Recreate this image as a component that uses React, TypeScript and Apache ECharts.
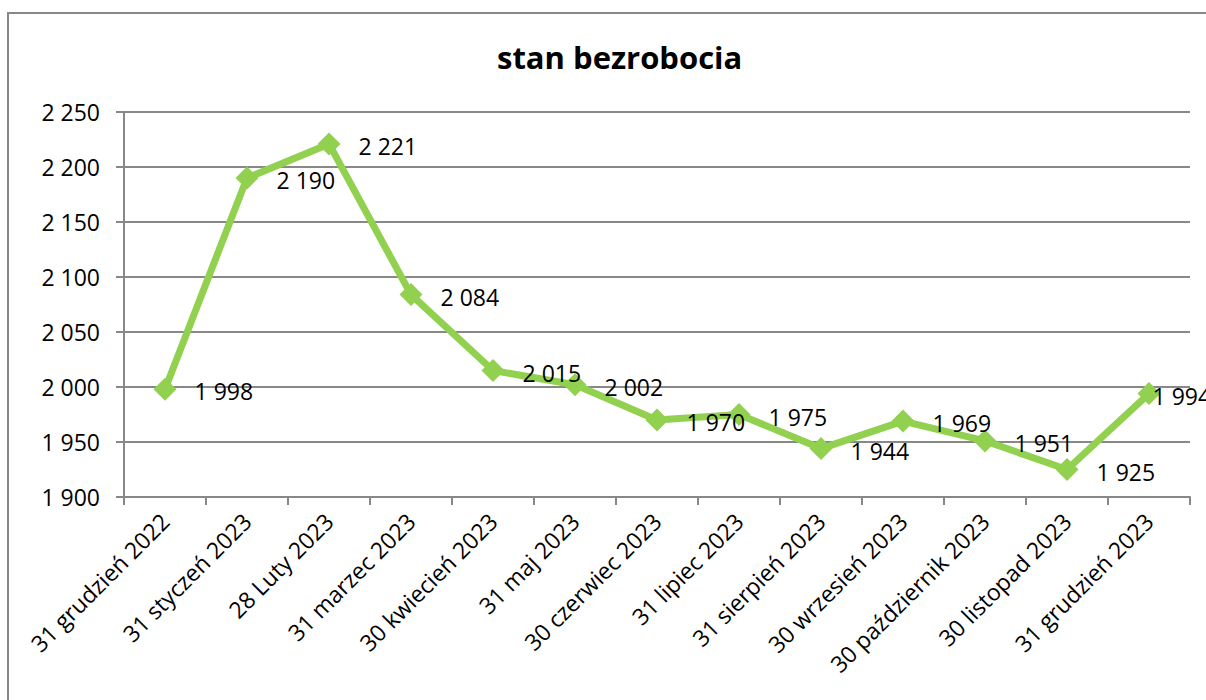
import React, { useEffect, useRef } from "react";
import * as echarts from "echarts";

const categories = [
  "31 grudzień 2022",
  "31 styczeń 2023",
  "28 Luty 2023",
  "31 marzec 2023",
  "30 kwiecień 2023",
  "31 maj 2023",
  "30 czerwiec 2023",
  "31 lipiec 2023",
  "31 sierpień 2023",
  "30 wrzesień 2023",
  "30 październik 2023",
  "30 listopad 2023",
  "31 grudzień 2023",
];
const values = [1998, 2190, 2221, 2084, 2015, 2002, 1970, 1975, 1944, 1969, 1951, 1925, 1994];
const title = "stan bezrobocia";
const yMin = 1900;
const yMax = 2250;
const yStep = 50;

const fmt = (v: number) => {
  const s = String(Math.round(v));
  return s.replace(/\B(?=(\d{3})+(?!\d))/g, " ");
};

const FONT = "Open Sans";

export default function App() {
  const ref = useRef<HTMLDivElement>(null);
  useEffect(() => {
    if (!ref.current) return;
    const chart = echarts.init(ref.current, null, { renderer: "svg" });
    const gray = "#888888";
    chart.setOption({
      animation: false,
      backgroundColor: "#ffffff",
      title: {
        text: title,
        left: 492,
        top: 36,
        textStyle: { fontFamily: FONT, fontSize: 31, fontWeight: "bold", color: "#000" },
      },
      graphic: [
        {
          type: "rect",
          shape: { x: 8, y: 13, width: 1220, height: 720 },
          style: { fill: "none", stroke: gray, lineWidth: 2 },
          silent: true,
        },
      ],
      grid: { left: 124, right: 16, top: 112, bottom: 203, containLabel: false },
      xAxis: {
        type: "category",
        data: categories,
        boundaryGap: true,
        axisLine: { lineStyle: { color: gray, width: 2 } },
        axisTick: { show: true, length: 8, lineStyle: { color: gray, width: 2 } },
        axisLabel: {
          rotate: 45,
          interval: 0,
          margin: 20,
          fontFamily: FONT,
          fontSize: 23,
          color: "#000",
        },
      },
      yAxis: {
        type: "value",
        min: yMin,
        max: yMax,
        interval: yStep,
        axisLine: { show: true, lineStyle: { color: gray, width: 2 } },
        axisTick: { show: true, length: 8, lineStyle: { color: gray, width: 2 } },
        splitLine: { show: true, lineStyle: { color: gray, width: 2 } },
        axisLabel: {
          margin: 24,
          fontFamily: FONT,
          fontSize: 23,
          color: "#000",
          formatter: (v: number) => fmt(v),
        },
      },
      series: [
        {
          type: "line",
          data: values.map((v, i) =>
            i === values.length - 1
              ? { value: v, label: { offset: [-26, 2] } }
              : { value: v }
          ),
          symbol: "diamond",
          symbolSize: 23,
          lineStyle: { color: "#92D050", width: 7 },
          itemStyle: { color: "#92D050" },
          label: {
            show: true,
            position: "right",
            distance: 18,
            offset: [0, 2],
            fontFamily: FONT,
            fontSize: 23,
            color: "#000",
            formatter: (p: any) => fmt(p.value),
          },
        },
      ],
    });
    return () => chart.dispose();
  }, []);
  return (
    <div
      ref={ref}
      style={{ position: "absolute", left: 0, top: 0, width: 1206, height: 700 }}
    />
  );
}
